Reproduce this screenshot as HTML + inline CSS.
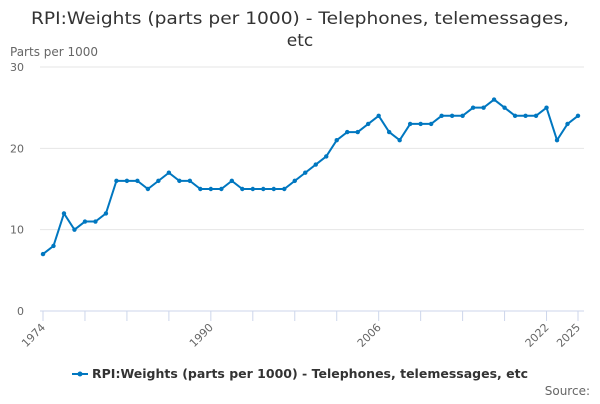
<!DOCTYPE html>
<html><head><meta charset="utf-8"><style>
body{margin:0;background:#fff;font-family:"DejaVu Sans","Liberation Sans",sans-serif}
</style></head><body>
<svg width="600" height="400" viewBox="0 0 600 400" font-family="DejaVu Sans, Liberation Sans, sans-serif">
<text x="300" y="24" text-anchor="middle" font-size="17" fill="#333" textLength="538" lengthAdjust="spacingAndGlyphs">RPI:Weights (parts per 1000) - Telephones, telemessages,</text>
<text x="300" y="46" text-anchor="middle" font-size="17" fill="#333">etc</text>
<text x="10" y="56" font-size="12" fill="#666">Parts per 1000</text>
<g id="grid"></g><g id="xaxis"></g><g id="series"></g>
<g>
<line x1="72" y1="374" x2="88" y2="374" stroke="#0077c0" stroke-width="2"/><circle cx="80" cy="374" r="2.5" fill="#0077c0"/>
<text x="92" y="378" font-size="12" font-weight="bold" fill="#333" textLength="436" lengthAdjust="spacingAndGlyphs">RPI:Weights (parts per 1000) - Telephones, telemessages, etc</text></g>
<text x="590" y="395" text-anchor="end" font-size="12" fill="#666">Source:</text>
</svg>
<script>
const years=[];for(let y=1974;y<=2025;y++)years.push(y);
const values=[7,8,12,10,11,11,12,16,16,16,15,16,17,16,16,15,15,15,16,15,15,15,15,15,16,17,18,19,21,22,22,23,24,22,21,23,23,23,24,24,24,25,25,26,25,24,24,24,25,21,23,24];
const yTicks=[0,10,20,30];
const xLabels=[1974,1990,2006,2022,2025];
const ns="http://www.w3.org/2000/svg";
const X=y=>43+(y-1974)*(578-43)/(2025-1974);
const Y=v=>311-v*(311-67)/30;
const g=document.getElementById('grid'),xa=document.getElementById('xaxis'),s=document.getElementById('series');
function mk(t,a,p){const e=document.createElementNS(ns,t);for(const k in a)e.setAttribute(k,a[k]);p.appendChild(e);return e;}
yTicks.forEach(v=>{
const l=mk('line',{x1:40,x2:584,y1:Y(v),y2:Y(v),stroke:v===0?'#ccd6eb':'#e6e6e6'},g);


const t=mk('text',{x:24,y:Y(v)+4,'text-anchor':'end','font-size':11,fill:'#666'},g);t.textContent=v;


});
const tickYears=[];for(let y=1974;y<=2022;y+=4)tickYears.push(y);tickYears.push(2025);
tickYears.forEach(y=>{
const l=mk('line',{x1:X(y),x2:X(y),y1:311,y2:321,stroke:'#ccd6eb'},xa);


});
xLabels.forEach(y=>{
const t=mk('text',{x:X(y)+3,y:328,'text-anchor':'end','font-size':11,fill:'#666',transform:`rotate(-45 ${X(y)+3} 328)`},xa);t.textContent=y;


});
const p=mk('polyline',{points:values.map((v,i)=>X(years[i])+','+Y(v)).join(' '),fill:'none',stroke:'#0077c0','stroke-width':2},s);


values.forEach((v,i)=>{
const c=mk('circle',{cx:X(years[i]),cy:Y(v),r:2.2,fill:'#0077c0'},s);


});
</script>
</body></html>
